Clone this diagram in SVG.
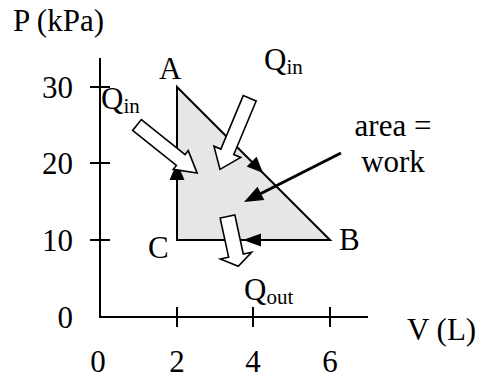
<svg xmlns="http://www.w3.org/2000/svg" width="482" height="379" viewBox="0 0 482 379">
<style>
text{font-family:"Liberation Serif","Times New Roman",serif;font-size:31px;fill:#000}
.sub{font-size:21px}
.ax{stroke:#000;stroke-width:2;fill:none}
.ah{fill:#000;stroke:none}
.blk{fill:#fff;stroke:#000;stroke-width:1.6;stroke-linejoin:miter}
</style>
<rect width="482" height="379" fill="#fff"/>
<g id="axes">
<line class="ax" x1="100" y1="58" x2="100" y2="318"/>
<line class="ax" x1="99" y1="317" x2="368" y2="317"/>
<line class="ax" x1="90" y1="87" x2="110" y2="87"/>
<line class="ax" x1="90" y1="163" x2="110" y2="163"/>
<line class="ax" x1="90" y1="240" x2="110" y2="240"/>
<line class="ax" x1="177" y1="307" x2="177" y2="327"/>
<line class="ax" x1="253" y1="307" x2="253" y2="327"/>
<line class="ax" x1="330" y1="307" x2="330" y2="327"/>
<text x="13" y="31">P (kPa)</text>
<text x="407" y="340">V (L)</text>
<text x="73" y="98" text-anchor="end">30</text>
<text x="73" y="174" text-anchor="end">20</text>
<text x="73" y="251" text-anchor="end">10</text>
<text x="73" y="328" text-anchor="end">0</text>
<text x="98" y="372" text-anchor="middle">0</text>
<text x="177" y="372" text-anchor="middle">2</text>
<text x="253" y="372" text-anchor="middle">4</text>
<text x="330" y="372" text-anchor="middle">6</text>
</g>
<g id="cycle">
<polygon points="177,87 330,240 177,240" fill="#e6e6e6" stroke="#000" stroke-width="2" stroke-linejoin="miter"/>
</g>
<g id="nodeA"><text x="159" y="79">A</text></g>
<g id="nodeB"><text x="339" y="250">B</text></g>
<g id="nodeC"><text x="148" y="258">C</text></g>
<g id="connectors">
<polygon class="ah" points="177,163 184.5,180 169.5,180"/>
<polygon class="ah" points="263,173 256.6,156.7 246.7,166.6"/>
<polygon class="ah" points="243,240 261,233.5 261,246.5"/>
<line x1="341" y1="153" x2="258" y2="195" stroke="#000" stroke-width="3"/>
<polygon class="ah" points="244,202 264.3,200.1 257.5,186.7"/>
</g>
<g id="qin-left">
<polygon class="blk" transform="translate(137,125) rotate(38.66)" points="0,-7 56,-7 56,-12 77,0 56,12 56,7 0,7"/>
<text x="101" y="109">Q<tspan class="sub" dy="4">in</tspan></text>
</g>
<g id="qin-top">
<polygon class="blk" transform="translate(249.7,98.3) rotate(112.7)" points="0,-7 58,-7 58,-14.5 77,0 58,14.5 58,7 0,7"/>
<text x="264" y="70">Q<tspan class="sub" dy="4">in</tspan></text>
</g>
<g id="qout">
<polygon class="blk" transform="translate(227.5,216.5) rotate(77.8)" points="0,-7.5 40,-7.5 40,-16 51,0 40,16 40,7.5 0,7.5"/>
<text x="244" y="300">Q<tspan class="sub" dy="4">out</tspan></text>
</g>
<g id="work-label">
<text x="393" y="136" text-anchor="middle">area =</text>
<text x="393" y="172" text-anchor="middle">work</text>
</g>
</svg>
